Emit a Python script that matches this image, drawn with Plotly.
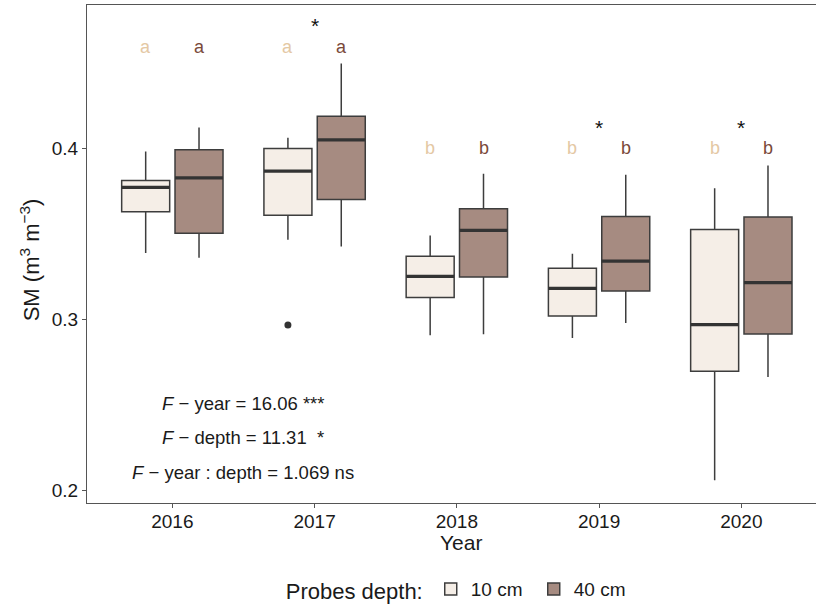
import plotly.graph_objects as go

# Soil moisture summary statistics per year and probe depth
years = ["2016", "2017", "2018", "2019", "2020"]

q1_10 = [0.3628, 0.3608, 0.3127, 0.3019, 0.2697]
med_10 = [0.3770, 0.3865, 0.3251, 0.3181, 0.2969]
q3_10 = [0.3810, 0.3998, 0.3369, 0.3299, 0.3525]
lo_10 = [0.3387, 0.3465, 0.2907, 0.2891, 0.2061]
hi_10 = [0.3980, 0.4060, 0.3490, 0.3383, 0.3766]

q1_40 = [0.3503, 0.3700, 0.3247, 0.3165, 0.2914]
med_40 = [0.3826, 0.4048, 0.3519, 0.3340, 0.3214]
q3_40 = [0.3990, 0.4185, 0.3645, 0.3601, 0.3597]
lo_40 = [0.3360, 0.3426, 0.2913, 0.2979, 0.2664]
hi_40 = [0.4120, 0.4494, 0.3850, 0.3844, 0.3898]

# outliers (year index, value) for the 10 cm probes
out_10_year = [1]
out_10_val = [0.2967]

# Tukey letters per year, and depth-difference stars
letters = ["a", "a", "b", "b", "b"]
letter_y = [0.4592, 0.4592, 0.4000, 0.4000, 0.4000]
star_years = [1, 3, 4]
star_y = [0.4718, 0.4122, 0.4122]

stat_lines = [
    "<i>F</i> \u2212 year = 16.06 ***",
    "<i>F</i> \u2212 depth = 11.31  *",
    "<i>F</i> \u2212 year : depth = 1.069 ns",
]
stat_y = [0.2510, 0.2311, 0.2107]

FONT = "Liberation Sans, Arial, sans-serif"
FILL_10 = "#f5eee7"
FILL_40 = "#a68b81"
TXT_10 = "#e4c8a4"
TXT_40 = "#7a4a3a"
EDGE = "#3d3d3d"

DODGE = 0.1875
BOXW = 0.3375

fig = go.Figure()

groups = [
    ("10 cm", -DODGE, FILL_10, q1_10, med_10, q3_10, lo_10, hi_10),
    ("40 cm", DODGE, FILL_40, q1_40, med_40, q3_40, lo_40, hi_40),
]

for name, off, fill, q1, med, q3, lo, hi in groups:
    xs = [i + off for i in range(len(years))]
    fig.add_trace(go.Box(
        name=name, x=xs, q1=q1, median=med, q3=q3,
        lowerfence=lo, upperfence=hi,
        width=BOXW, fillcolor=fill,
        line=dict(color=EDGE, width=1.5),
        boxpoints=False, whiskerwidth=0,
        showlegend=True, hoverinfo="skip",
    ))
    # thick median bars
    mx, my = [], []
    for x, m in zip(xs, med):
        mx += [x - BOXW / 2, x + BOXW / 2, None]
        my += [m, m, None]
    fig.add_trace(go.Scatter(
        x=mx, y=my, mode="lines", line=dict(color="#333333", width=3.2),
        showlegend=False, hoverinfo="skip",
    ))

# outlier points
fig.add_trace(go.Scatter(
    x=[i - DODGE for i in out_10_year], y=out_10_val, mode="markers",
    marker=dict(color="#333333", size=7), showlegend=False, hoverinfo="skip",
))

annotations = []
for i, (lt, ly) in enumerate(zip(letters, letter_y)):
    annotations.append(dict(x=i - DODGE, y=ly, text=lt, showarrow=False,
                            font=dict(family=FONT, size=18, color=TXT_10)))
    annotations.append(dict(x=i + DODGE, y=ly, text=lt, showarrow=False,
                            font=dict(family=FONT, size=18, color=TXT_40)))
for sx, sy in zip(star_years, star_y):
    annotations.append(dict(x=sx, y=sy, text="*", showarrow=False,
                            font=dict(family=FONT, size=21, color="#111111")))
for txt, ty in zip(stat_lines, stat_y):
    annotations.append(dict(x=0.5, y=ty, text=txt, showarrow=False,
                            font=dict(family=FONT, size=18.5, color="#1a1a1a")))

# axis titles
annotations.append(dict(xref="paper", yref="paper", x=0.5135, y=-0.079,
                        xanchor="center", yanchor="middle",
                        text="Year", showarrow=False,
                        font=dict(family=FONT, size=21, color="#1a1a1a")))
annotations.append(dict(xref="paper", yref="paper", x=-0.078, y=0.4876,
                        xanchor="center", yanchor="middle",
                        text="SM (m<sup>3</sup> m<sup>\u22123</sup>)",
                        textangle=-90, showarrow=False,
                        font=dict(family=FONT, size=22, color="#1a1a1a")))

fig.update_layout(
    width=816, height=606,
    margin=dict(l=87, r=0, t=5, b=103, autoexpand=False),
    paper_bgcolor="white", plot_bgcolor="white",
    font=dict(family=FONT, color="#1a1a1a"),
    boxmode="overlay",
    annotations=annotations,
    legend=dict(
        orientation="h", x=0.512, xanchor="center", y=-0.174, yanchor="middle",
        title=dict(text="Probes depth:", font=dict(size=22, family=FONT)),
        font=dict(size=19, family=FONT, color="#1a1a1a"),
        itemwidth=30, entrywidth=58,
    ),
    xaxis=dict(
        range=[-0.6, 4.525], tickmode="array",
        tickvals=list(range(len(years))), ticktext=years,
        showgrid=False, zeroline=False,
        showline=True, linecolor="#555555", linewidth=1.3, mirror=True,
        ticks="outside", ticklen=4, tickcolor="#555555",
        ticklabelstandoff=-3,
        tickfont=dict(size=19, family=FONT, color="#1a1a1a"),
    ),
    yaxis=dict(
        range=[0.1928, 0.4835], tickvals=[0.2, 0.3, 0.4],
        ticktext=["0.2", "0.3", "0.4"],
        showgrid=False, zeroline=False,
        showline=True, linecolor="#555555", linewidth=1.3, mirror=False,
        ticks="outside", ticklen=4, tickcolor="#555555",
        tickfont=dict(size=19, family=FONT, color="#1a1a1a"),
    ),
)

fig.write_html("out.html")
